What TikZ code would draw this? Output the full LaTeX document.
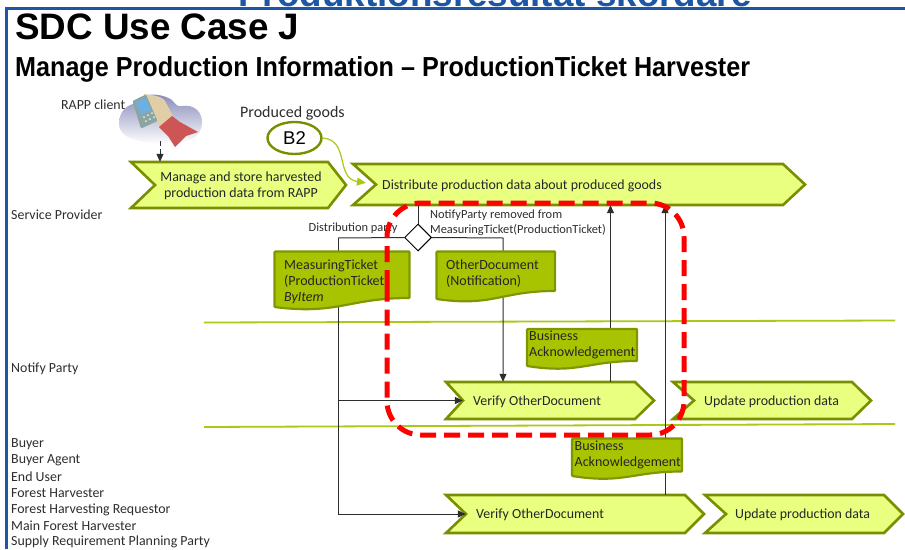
\documentclass[tikz,border=0pt]{standalone}
\usepackage{fontspec}
\setmainfont{Carlito}
\newfontfamily\arialf{Liberation Sans}
\usetikzlibrary{shapes.geometric,arrows.meta,calc}
\definecolor{frameblue}{RGB}{30,86,166}
\definecolor{chevfill}{RGB}{232,255,128}
\definecolor{chevline}{RGB}{122,142,0}
\definecolor{docfill}{RGB}{168,196,0}
\definecolor{docline}{RGB}{128,150,0}
\definecolor{laneline}{RGB}{170,200,20}
\definecolor{inkgrey}{RGB}{45,45,45}
\definecolor{hilite}{RGB}{255,0,0}
\definecolor{cloudtop}{RGB}{128,132,182}
\definecolor{armred}{RGB}{205,85,85}
\definecolor{skin}{RGB}{226,206,166}
\definecolor{phonebody}{RGB}{140,165,160}
\definecolor{phonescreen}{RGB}{110,175,225}
\tikzset{
  x=1pt,y=-1pt,
  lab/.style={font=\fontsize{13.9}{16}\selectfont,text=inkgrey,inner sep=0,anchor=west},
  smalllab/.style={font=\fontsize{12.4}{14.5}\selectfont,text=inkgrey,inner sep=0,anchor=west,align=left},
  chevpath/.style={draw=chevline,fill=chevfill,line width=2.6pt,miter limit=6},
  chevtext/.style={font=\fontsize{13.9}{16}\selectfont,text=black!85,align=center,inner sep=0},
  docpath/.style={draw=docline,fill=docfill,line width=2.2pt},
  doctext/.style={font=\fontsize{14}{16}\selectfont,text=black!85,align=left,inner sep=0,anchor=north west},
  conn/.style={draw=inkgrey,line width=1pt},
  connarrow/.style={conn,-{Triangle[length=8pt,width=7pt]}},
  lane/.style={draw=laneline,line width=1.8pt},
}
% \chev{name}{left}{right corner}{tip}{top}{bottom}{notch}
\newcommand{\chev}[7]{%
  \path[chevpath] (#2,#5) -- (#3,#5) -- (#4,{(#5+#6)/2}) -- (#3,#6) -- (#2,#6) -- (#7,{(#5+#6)/2}) -- cycle;
  \node[inner sep=0,minimum width={(#4-#7)*1pt},minimum height={(#6-#5)*1pt}] (#1) at ({(#4+#7)/2},{(#5+#6)/2}) {};
}
% \docshape{name}{left}{right}{top}{right bottom}{left bottom}
\newcommand{\docshape}[6]{%
  \path[docpath,rounded corners=0.8pt] (#2,#4) -- (#3,#4) -- (#3,#5) .. controls ({#3-(#3-#2)*0.45},{#5}) and ({#2+(#3-#2)*0.47},{#6+8}) .. (#2,#6) -- cycle;
  \node[inner sep=0,minimum width={(#3-#2)*1pt},minimum height={(#6-#4)*1pt}] (#1) at ({(#2+#3)/2},{(#4+#6)/2}) {};
}
\begin{document}
\begin{tikzpicture}
\useasboundingbox (0,0) rectangle (905,549);
% cropped heading and frame
\begin{scope}
\clip (0,0) rectangle (905,7);
\node[font=\arialf\bfseries\fontsize{36.8}{37}\selectfont,text=frameblue,inner sep=0,anchor=base] (head) at (495,6) {Produktionsresultat skördare};
\end{scope}
\path[draw=frameblue,line width=3pt] (6.5,549) -- (6.5,8.5) -- (905,8.5);
% titles
\node[font=\arialf\bfseries\fontsize{36.8}{37}\selectfont,inner sep=0,anchor=base west] (t1) at (15,39.5) {SDC Use Case J};
\node[font=\arialf\bfseries\fontsize{27.5}{28}\selectfont,inner sep=0,anchor=base west,xscale=0.915] (t2) at (15,76.5) {Manage Production Information – ProductionTicket Harvester};
% lanes
\draw[lane] (204,322.5) -- (895,320.5);
\draw[lane] (204,427) -- (895,424);
% role labels
\node[lab] (r1) at (11,215) {Service Provider};
\node[lab] (r2) at (11,369) {Notify Party};
\node[lab] (r3) at (11,444.5) {Buyer};
\node[lab] (r4) at (11,460.5) {Buyer Agent};
\node[lab] (r5) at (11,477) {End User};
\node[lab] (r6) at (11,493) {Forest Harvester};
\node[lab] (r7) at (11,509.5) {Forest Harvesting Requestor};
\node[lab] (r8) at (11,525.5) {Main Forest Harvester};
\node[lab] (r9) at (11,542) {Supply Requirement Planning Party};
% RAPP client picture
\node[lab] (rapp) at (61,105) {RAPP client};
\shade[top color=cloudtop,bottom color=white]
  (119,124) .. controls (119,112) and (126,106) .. (133,104)
  .. controls (138,94) and (158,91) .. (172,100)
  .. controls (176,105) and (178,107) .. (182,106)
  .. controls (194,104) and (203,112) .. (202,124)
  .. controls (201,136) and (190,143) .. (172,143)
  .. controls (150,144) and (120,142) .. (119,124) -- cycle;
\fill[skin] (144,94) .. controls (152,95) and (162,96) .. (165,101)
  -- (173,116) -- (160,127) -- (155,118) -- cycle;
\fill[phonebody,rounded corners=1pt] (132.5,101) -- (146,94.5) -- (157.5,121) -- (141,128.5) -- cycle;
\fill[phonescreen] (135.5,102) -- (146,97.5) -- (151,110) -- (141,115) -- cycle;
\foreach \bx/\by in {144/117,148/115,152/113,146/121,150/119,154/117}
  \fill[white!80!phonebody] (\bx,\by) circle (1pt);
\fill[armred] (159,127) -- (172,116) -- (180,122) -- (198,132) -- (186,136) -- (175,147) -- (168,136) -- cycle;
\coordinate (cloudfoot) at (160,141);
% chevrons
\chev{manage}{131}{328}{346}{162}{208}{155}
\node[chevtext] (managet) at (241,186) {Manage and store harvested\\production data from RAPP};
\chev{distr}{353}{783}{805}{164}{205}{376}
\node[chevtext,anchor=west] (distrt) at (382,186) {Distribute production data about produced goods};
\chev{ver1}{446}{635}{654}{382}{419}{463}
\node[chevtext,anchor=west] (ver1t) at (473,401.5) {Verify OtherDocument};
\chev{upd1}{673}{852}{871}{382}{419}{694}
\node[chevtext,anchor=west] (upd1t) at (704,402) {Update production data};
\chev{ver2}{446}{685}{704}{495}{533}{466}
\node[chevtext,anchor=west] (ver2t) at (476,515) {Verify OtherDocument};
\chev{upd2}{705}{884}{903}{495}{533}{726}
\node[chevtext,anchor=west] (upd2t) at (735,515) {Update production data};
% goods
\node[lab,font=\fontsize{16}{18}\selectfont] (goods) at (240,113.5) {Produced goods};
\node[ellipse,draw=chevline,fill=white,line width=2.4pt,minimum width=54pt,minimum height=32pt,inner sep=0,font=\arialf\fontsize{18.5}{20}\selectfont] (b2) at (294.5,138) {B2};
\draw[draw=laneline,line width=1.2pt,shorten >=10pt,-{Triangle[length=9pt,width=8pt]}] (b2.east) .. controls (350,140) and (335,178) .. (distr.west);
\draw[conn,dash pattern=on 5pt off 3pt,-{Triangle[length=8pt,width=7pt]}] (cloudfoot) -- (cloudfoot |- manage.north);
% gateway and flow
\node[diamond,draw=black,fill=white,line width=1pt,minimum width=27pt,minimum height=27pt,inner sep=0,aspect=1] (gate) at (418,237.5) {};
\coordinate (gateup) at (gate.north |- distr.south);
\coordinate (lbus) at (338,238);
\coordinate (rbus) at (503,238);
\draw[conn] (gateup) -- (gate.north);
\draw[conn] (gate.west) -- (lbus);
\draw[connarrow] (lbus) |- (ver2.west);
\draw[connarrow] (lbus |- ver1.west) -- (ver1.west);
\draw[connarrow] (gate.east) -- (rbus) -- (rbus |- ver1.north);
\coordinate (ack1a) at (610.5,382);
\coordinate (ack2a) at (665,495);
\draw[connarrow] (ack1a) -- (ack1a |- distr.south);
\draw[connarrow] (ack2a) -- (ack2a |- distr.south);
\node[smalllab] (dp) at (308.5,228) {Distribution party};
\node[smalllab,anchor=north west] (np) at (430,210) {NotifyParty removed from\\MeasuringTicket(ProductionTicket)};
% documents
\docshape{mt}{274.5}{409.5}{251.5}{298}{307}
\node[doctext] (mtt) at (284,260) {MeasuringTicket\\(ProductionTicket)\\\textit{ByItem}};
\docshape{od}{436.5}{555}{251.5}{291}{299}
\node[doctext] (odt) at (446,260) {OtherDocument\\(Notification)};
\docshape{ba1}{527}{637}{329}{361}{366}
\node[doctext] (ba1t) at (529,330.5) {Business\\Acknowledgement};
\docshape{ba2}{572}{682}{438.5}{471.5}{476}
\node[doctext] (ba2t) at (574.5,440.5) {Business\\Acknowledgement};
% red highlight
\draw[draw=hilite,line width=5pt,dash pattern=on 16pt off 8pt,rounded corners=34pt] (387,320) -- (387,203) -- (684,203) -- (684,435) -- (387,435) -- cycle;
\end{tikzpicture}
\end{document}
